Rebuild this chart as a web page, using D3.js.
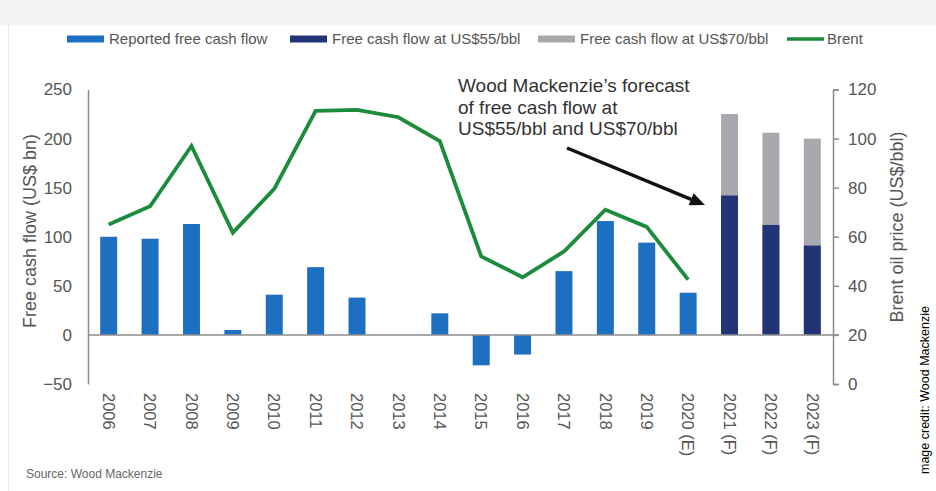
<!DOCTYPE html>
<html>
<head>
<meta charset="utf-8">
<script src="https://cdn.jsdelivr.net/npm/d3@7"></script>
<style>
  html, body { margin: 0; padding: 0; background: #fff; }
  svg { display: block; font-family: "Liberation Sans", Arial, sans-serif; }
</style>
</head>
<body>
<svg id="chart" width="936" height="491"></svg>
<script>
// Years on the category axis
const years = ["2006","2007","2008","2009","2010","2011","2012","2013","2014",
               "2015","2016","2017","2018","2019","2020 (E)","2021 (F)","2022 (F)","2023 (F)"];

// Reported free cash flow, US$ bn (2006–2020)
const reportedFCF = [100, 98, 113, 5, 41, 69, 38, 0, 22, -31, -20, 65, 116, 94, 43];

// Forecast free cash flow at US$55/bbl and US$70/bbl, US$ bn (2021–2023)
const forecastYears = ["2021 (F)", "2022 (F)", "2023 (F)"];
const fcfAt55 = [142, 112, 91];
const fcfAt70 = [225, 206, 200];

// Brent oil price, US$/bbl (2006–2020)
const brent = [65, 72.4, 97, 61.7, 79.5, 111.3, 111.7, 108.7, 99, 52, 43.5, 54, 71, 64, 42.5];

// Axis ticks
const leftTicks = [-50, 0, 50, 100, 150, 200, 250];
const rightTicks = [0, 20, 40, 60, 80, 100, 120];

const colors = {
  reported: "#1d6fc1",
  at55: "#233476",
  at70: "#a8a9ac",
  brent: "#1c8b3a",
  axis: "#8c8c8c",
  text: "#555555"
};

const svg = d3.select("#chart");

// page furniture: header strip and left border
svg.append("rect").attr("x", 0).attr("y", 0).attr("width", 936).attr("height", 25).attr("fill", "#f3f4f5");
svg.append("line").attr("x1", 8.5).attr("x2", 8.5).attr("y1", 25).attr("y2", 491)
  .attr("stroke", "#e8e8e8").attr("stroke-width", 1);

const plot = { left: 88, right: 833, top: 89.5, bottom: 384 };

const x = d3.scaleBand().domain(years).range([plot.left, plot.right])
  .paddingInner(0.59).paddingOuter(0.295);
const yL = d3.scaleLinear().domain([-50, 250]).range([plot.bottom, plot.top]);
const yR = d3.scaleLinear().domain([0, 120]).range([plot.bottom, plot.top]);

// Reported bars
svg.append("g").selectAll("rect").data(reportedFCF).join("rect")
  .attr("x", (d, i) => x(years[i]))
  .attr("width", x.bandwidth())
  .attr("y", d => yL(Math.max(0, d)))
  .attr("height", d => Math.abs(yL(d) - yL(0)))
  .attr("fill", colors.reported);

// Forecast bars: grey US$70 bar behind, navy US$55 bar in front
const fg = svg.append("g");
fg.selectAll("rect.h").data(fcfAt70).join("rect").attr("class", "h")
  .attr("x", (d, i) => x(forecastYears[i]))
  .attr("width", x.bandwidth())
  .attr("y", d => yL(d))
  .attr("height", d => yL(0) - yL(d))
  .attr("fill", colors.at70);
fg.selectAll("rect.l").data(fcfAt55).join("rect").attr("class", "l")
  .attr("x", (d, i) => x(forecastYears[i]))
  .attr("width", x.bandwidth())
  .attr("y", d => yL(d))
  .attr("height", d => yL(0) - yL(d))
  .attr("fill", colors.at55);

// Zero line
svg.append("line")
  .attr("x1", plot.left).attr("x2", plot.right + 6)
  .attr("y1", yL(0)).attr("y2", yL(0))
  .attr("stroke", colors.axis).attr("stroke-width", 1.5);

// Brent line
const cx = d => x(d) + x.bandwidth() / 2;
svg.append("path")
  .datum(brent)
  .attr("fill", "none")
  .attr("stroke", colors.brent)
  .attr("stroke-width", 3.8)
  .attr("stroke-linejoin", "miter")
  .attr("d", d3.line().x((d, i) => cx(years[i])).y(d => yR(d)));

// Left axis
const axL = svg.append("g").attr("transform", `translate(${plot.left},0)`)
  .call(d3.axisLeft(yL).tickValues(leftTicks).tickSize(0).tickPadding(16));
axL.select(".domain").attr("stroke", colors.axis).attr("stroke-width", 1.5);
axL.selectAll("text").attr("font-size", 17).attr("fill", colors.text)
  .attr("font-family", "Liberation Sans, Arial, sans-serif");

// Right axis
const axR = svg.append("g").attr("transform", `translate(${plot.right},0)`)
  .call(d3.axisRight(yR).tickValues(rightTicks).tickSize(6).tickSizeOuter(6).tickPadding(9));
axR.select(".domain").attr("stroke", colors.axis).attr("stroke-width", 1.5);
axR.selectAll(".tick line").attr("stroke", colors.axis).attr("stroke-width", 1.5);
axR.selectAll("text").attr("font-size", 17).attr("fill", colors.text)
  .attr("font-family", "Liberation Sans, Arial, sans-serif");

// Category labels, rotated
svg.append("g").selectAll("text").data(years).join("text")
  .attr("transform", d => `translate(${cx(d)},393) rotate(90)`)
  .attr("dy", "0.35em")
  .attr("font-size", 16.5)
  .attr("fill", colors.text)
  .text(d => d);

// Axis titles
svg.append("text")
  .attr("transform", "translate(36,231) rotate(-90)")
  .attr("text-anchor", "middle")
  .attr("font-size", 18).attr("fill", colors.text)
  .text("Free cash flow (US$ bn)");
svg.append("text")
  .attr("transform", "translate(903,227) rotate(-90)")
  .attr("text-anchor", "middle")
  .attr("font-size", 18).attr("fill", colors.text)
  .text("Brent oil price (US$/bbl)");

// Legend
const legend = [
  { label: "Reported free cash flow", color: colors.reported, x: 67, type: "bar" },
  { label: "Free cash flow at US$55/bbl", color: colors.at55, x: 290, type: "bar" },
  { label: "Free cash flow at US$70/bbl", color: colors.at70, x: 538, type: "bar" },
  { label: "Brent", color: colors.brent, x: 787, type: "line" }
];
const lg = svg.append("g").selectAll("g").data(legend).join("g")
  .attr("transform", d => `translate(${d.x},39)`);
lg.append("rect")
  .attr("x", 0).attr("width", 37)
  .attr("y", d => d.type === "bar" ? -3.5 : -1.75)
  .attr("height", d => d.type === "bar" ? 7 : 3.5)
  .attr("fill", d => d.color);
lg.append("text")
  .attr("x", d => d.type === "bar" ? 42 : 40)
  .attr("dy", "0.36em")
  .attr("font-size", 15).attr("fill", colors.text)
  .text(d => d.label);

// Annotation
const note = ["Wood Mackenzie\u2019s forecast", "of free cash flow at", "US$55/bbl and US$70/bbl"];
svg.append("g").selectAll("text").data(note).join("text")
  .attr("x", 458).attr("y", (d, i) => 92 + i * 21.5)
  .attr("font-size", 19).attr("fill", "#333")
  .text(d => d);

const a0 = [567, 148], a1 = [705, 205];
const ang = Math.atan2(a1[1] - a0[1], a1[0] - a0[0]);
const headLen = 15, headW = 6.5;
const base = [a1[0] - headLen * Math.cos(ang), a1[1] - headLen * Math.sin(ang)];
svg.append("line")
  .attr("x1", a0[0]).attr("y1", a0[1]).attr("x2", base[0]).attr("y2", base[1])
  .attr("stroke", "#111").attr("stroke-width", 3.5);
svg.append("path")
  .attr("d", d3.line()([
    a1,
    [base[0] + headW * Math.sin(ang), base[1] - headW * Math.cos(ang)],
    [base[0] - headW * Math.sin(ang), base[1] + headW * Math.cos(ang)]
  ]) + "Z")
  .attr("fill", "#111");

// Source and credit
svg.append("text").attr("x", 26).attr("y", 478)
  .attr("font-size", 12).attr("fill", "#666")
  .text("Source: Wood Mackenzie");
svg.append("text")
  .attr("transform", "translate(929,474) rotate(-90)")
  .attr("font-size", 12.5).attr("fill", "#000")
  .text("mage credit: Wood Mackenzie");
</script>
</body>
</html>
